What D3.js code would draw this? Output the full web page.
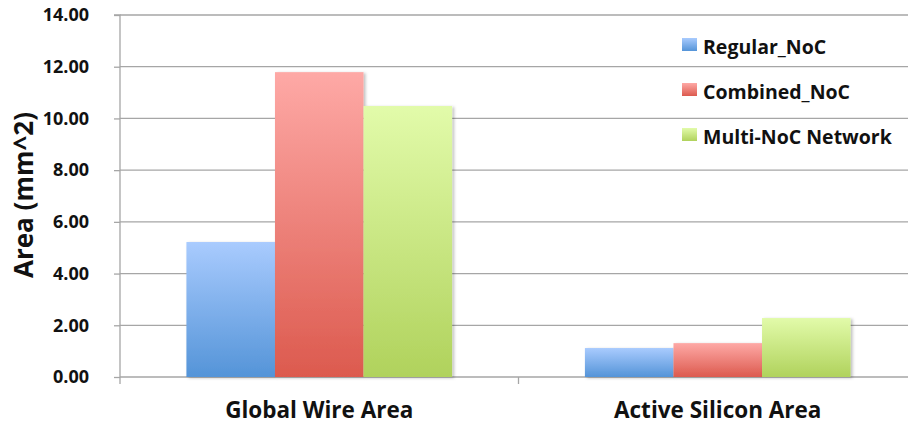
<!DOCTYPE html>
<html>
<head>
<meta charset="utf-8">
<script src="https://cdn.jsdelivr.net/npm/d3@7"></script>
<style>
  html, body { margin: 0; padding: 0; background: #fff; }
  svg { display: block; }
  text { font-family: "Open Sans", Lato, sans-serif; font-weight: bold; fill: #111; }
</style>
</head>
<body>
<svg id="chart" width="908" height="425"></svg>
<script>
// Chart data
const categories = ["Global Wire Area", "Active Silicon Area"];
const seriesNames = ["Regular_NoC", "Combined_NoC", "Multi-NoC Network"];
const regularNoC = [5.22, 1.12];
const combinedNoC = [11.79, 1.31];
const multiNoC = [10.48, 2.28];
const yTicks = [0, 2, 4, 6, 8, 10, 12, 14];
const yTitle = "Area (mm^2)";

const seriesValues = [regularNoC, combinedNoC, multiNoC];
const palette = [
  { top: "#a9cbfe", bottom: "#5494d8" },
  { top: "#fea9a6", bottom: "#dc5a4e" },
  { top: "#e2fbaa", bottom: "#b0d25c" }
];

const svg = d3.select("#chart");
const width = 908, height = 425;
const plot = { left: 120, right: 917, top: 15, bottom: 377 };

const x = d3.scaleBand().domain(categories).range([plot.left, plot.right]).paddingInner(0).paddingOuter(0);
const bandInner = d3.scaleBand().domain(seriesNames).range([0, x.bandwidth()]).paddingInner(0).paddingOuter(0.75);
const y = d3.scaleLinear().domain([0, 14]).range([plot.bottom, plot.top]);

const defs = svg.append("defs");
palette.forEach((c, i) => {
  const g = defs.append("linearGradient").attr("id", "grad" + i)
    .attr("x1", 0).attr("y1", 0).attr("x2", 0).attr("y2", 1);
  g.append("stop").attr("offset", "0%").attr("stop-color", c.top);
  g.append("stop").attr("offset", "100%").attr("stop-color", c.bottom);
});
const shadow = defs.append("filter").attr("id", "barShadow")
  .attr("x", "-10%").attr("y", "-10%").attr("width", "130%").attr("height", "130%");
shadow.append("feDropShadow").attr("dx", 2).attr("dy", 1).attr("stdDeviation", 1.6)
  .attr("flood-color", "#000").attr("flood-opacity", 0.25);

// Gridlines
svg.append("g").selectAll("line").data(yTicks.filter(d => d > 0)).join("line")
  .attr("x1", plot.left).attr("x2", width)
  .attr("y1", d => y(d)).attr("y2", d => y(d))
  .attr("stroke", "#a6a6a6").attr("stroke-width", 1.3);

// Y axis
const yAxis = d3.axisLeft(y).tickValues(yTicks).tickFormat(d3.format(".2f")).tickSize(6);
const yg = svg.append("g").attr("transform", `translate(${plot.left},0)`).call(yAxis);
yg.select(".domain").attr("stroke", "#a6a6a6").attr("stroke-width", 1.3).attr("d", `M-6,${plot.top}H0V${plot.bottom}`);
yg.selectAll(".tick line").attr("stroke", "#a6a6a6").attr("stroke-width", 1.3);
yg.selectAll(".tick text").attr("x", -31)
  .style("font-size", "18px").style("font-family", "'Open Sans', sans-serif").style("font-weight", "bold").attr("fill", "#111");

// X axis
const xAxis = d3.axisBottom(x).tickSize(0).tickPadding(0).tickFormat("");
const xg = svg.append("g").attr("transform", `translate(0,${plot.bottom})`).call(xAxis);
xg.select(".domain").remove();
xg.append("line").attr("x1", plot.left).attr("x2", width).attr("y1", 0).attr("y2", 0)
  .attr("stroke", "#a6a6a6").attr("stroke-width", 1.3);
const boundaries = [plot.left].concat(categories.map(c => x(c) + x.bandwidth()));
xg.selectAll("line.sep").data(boundaries).join("line").attr("class", "sep")
  .attr("x1", d => d).attr("x2", d => d).attr("y1", 0).attr("y2", 7)
  .attr("stroke", "#a6a6a6").attr("stroke-width", 1.3);
xg.selectAll("text.cat").data(categories).join("text").attr("class", "cat")
  .attr("x", d => x(d) + x.bandwidth() / 2).attr("y", 41)
  .attr("text-anchor", "middle").style("font-size", "22.5px").text(d => d);

// Bars
const groups = svg.append("g").selectAll("g").data(categories).join("g")
  .attr("transform", d => `translate(${x(d)},0)`);
groups.selectAll("rect").data((c, ci) => seriesNames.map((s, si) => ({ s, si, v: seriesValues[si][ci] })))
  .join("rect")
  .attr("x", d => bandInner(d.s))
  .attr("width", bandInner.bandwidth())
  .attr("y", d => y(d.v))
  .attr("height", d => y(0) - y(d.v))
  .attr("fill", d => `url(#grad${d.si})`)
  .attr("filter", "url(#barShadow)");

// Y axis title
svg.append("text")
  .attr("transform", `translate(33,195) rotate(-90)`)
  .attr("text-anchor", "middle").style("font-size", "26px").text(yTitle);

// Legend
const legend = svg.append("g").attr("transform", "translate(682,38)");
const items = legend.selectAll("g").data(seriesNames).join("g")
  .attr("transform", (d, i) => `translate(0,${i * 45})`);
items.append("rect").attr("width", 15).attr("height", 13)
  .attr("fill", (d, i) => `url(#grad${i})`);
items.append("text").attr("x", 21).attr("y", 16).style("font-size", "19.5px").text(d => d);
</script>
</body>
</html>
